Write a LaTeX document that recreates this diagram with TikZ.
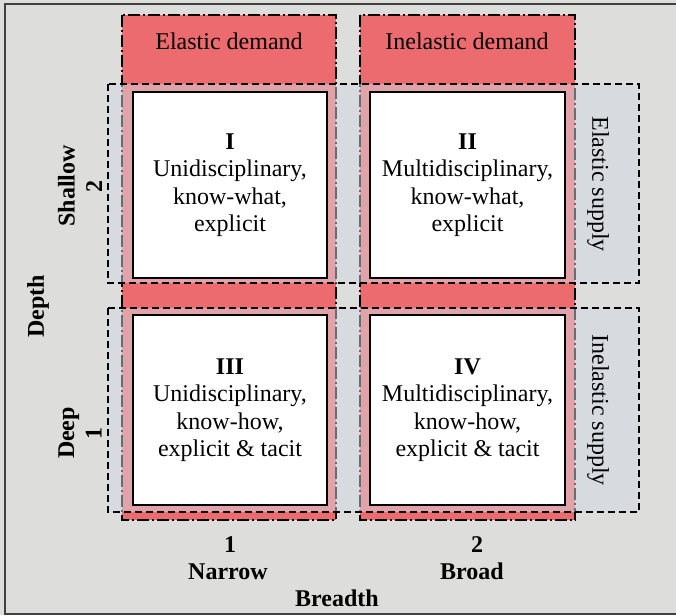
\documentclass[tikz,border=0pt]{standalone}
\usepackage{fontspec}
\setmainfont{Liberation Serif}
\definecolor{bg}{RGB}{221,221,219}
\definecolor{dred}{RGB}{236,107,110}
\definecolor{rowc}{RGB}{211,219,229}
\begin{document}
\begin{tikzpicture}[x=1pt,y=-1pt,
 col/.style={fill=dred, draw=black, line width=1.6pt, dash pattern=on 12pt off 3pt on 2pt off 3pt},
 rowband/.style={fill=rowc, fill opacity=0.5, draw=black, line width=1.6pt, dash pattern=on 7pt off 4pt},
 cell/.style={draw=black, fill=white, line width=1.8pt, align=center, font=\fontsize{24}{27.5}\selectfont, inner sep=0pt},
 lab/.style={font=\fontsize{24}{27.5}\selectfont, align=center, inner sep=0pt},
 blab/.style={font=\fontsize{24}{27.5}\selectfont\bfseries, align=center, inner sep=0pt}]
\useasboundingbox (0,0) rectangle (676,615);
\fill[bg] (0,0) rectangle (676,615);
\draw[line width=1.6pt, draw=black!75] (5,4) rectangle (677,614);
% columns (demand)
\draw[col] (122,15) rectangle (336,520);
\draw[col] (360,15) rectangle (575,520);
% rows (supply)
\draw[rowband] (108,84) rectangle (639,283);
\draw[rowband] (108,308) rectangle (639,512);
% cells
\node[cell, minimum width=194pt, minimum height=186pt] (c1) at (230,185) {\textbf{I}\\Unidisciplinary,\\know-what,\\explicit};
\node[cell, minimum width=195pt, minimum height=186pt] (c2) at (467.5,185) {\textbf{II}\\Multidisciplinary,\\know-what,\\explicit};
\node[cell, minimum width=194pt, minimum height=190pt] (c3) at (230,410) {\textbf{III}\\Unidisciplinary,\\know-how,\\explicit \& tacit};
\node[cell, minimum width=195pt, minimum height=190pt] (c4) at (467.5,410) {\textbf{IV}\\Multidisciplinary,\\know-how,\\explicit \& tacit};
% headers
\node[lab, anchor=base] (d1) at (229,50) {Elastic demand};
\node[lab, anchor=base] (d2) at (467,50) {Inelastic demand};
% supply labels
\node[lab, rotate=-90] (s1) at (598,184) {Elastic supply};
\node[lab, rotate=-90] (s2) at (598,410) {Inelastic supply};
% depth labels
\node[blab, rotate=90] (sh) at (80,186) {Shallow\\2};
\node[blab, rotate=90] (dp) at (80,433) {Deep\\1};
\node[blab, rotate=90] (dep) at (38,306) {Depth};
% breadth labels
\node[blab, anchor=base] (o1) at (230,552) {1};
\node[blab, anchor=base] (nar) at (228,579) {Narrow};
\node[blab, anchor=base] (o2) at (477,552) {2};
\node[blab, anchor=base] (bro) at (472,579) {Broad};
\node[blab, anchor=base] (bre) at (337,606) {Breadth};
\end{tikzpicture}
\end{document}
